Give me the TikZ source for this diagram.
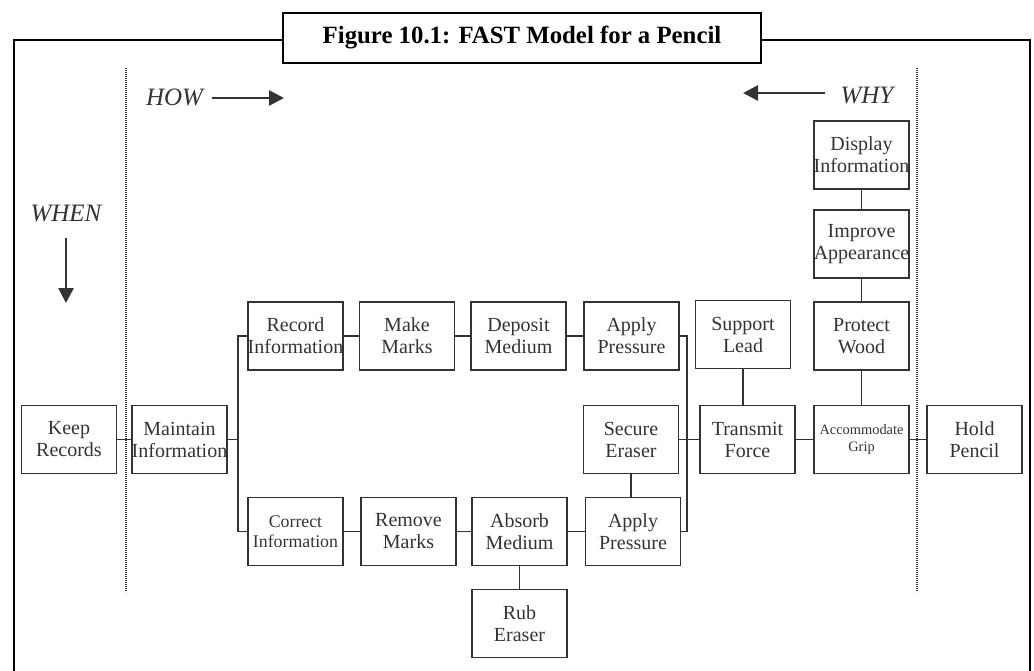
\documentclass[tikz,border=0pt]{standalone}
\usepackage{fontspec}
\setmainfont{Liberation Serif}
\usetikzlibrary{arrows.meta}
\definecolor{ink}{HTML}{333333}
\begin{document}
\begin{tikzpicture}[x=0.5pt,y=-0.5pt,
  fbox/.style={draw=ink, line width=0.8pt, minimum width=47.5pt, minimum height=34pt,
    inner sep=0pt, align=center, text=ink, font=\fontsize{10}{11}\selectfont},
  link/.style={draw=ink, line width=0.8pt},
  dirarrow/.style={line width=1.3pt, draw=ink, -{Triangle[length=7.5pt,width=7.5pt]}},
  sepline/.style={line width=1pt, draw=ink, dash pattern=on 0.6pt off 0.4pt},
  lbl/.style={inner sep=0pt, text=ink, font=\fontsize{12.5}{14}\selectfont\itshape}]
\useasboundingbox (0,0) rectangle (1034,670);
\clip (0,0) rectangle (1034,670);
% frame
\draw[line width=1pt] (14,720) -- (14,40) -- (283,40);
\draw[line width=1pt] (761,40) -- (1030,40) -- (1030,720);
\node[draw, line width=1pt, fill=white, minimum width=239pt, minimum height=25pt, inner sep=0pt,
  font=\fontsize{12.4}{14}\selectfont\bfseries] (title) at (522,38) {Figure 10.1: FAST Model for a Pencil};
% separators
\draw[sepline] (126,68) -- (126,592);
\draw[sepline] (917,68) -- (917,592);
% direction labels
\node[lbl] (how) at (174.5,97) {HOW};
\coordinate (howA) at (212,98);
\coordinate (howB) at (284,98);
\draw[dirarrow] (howA) -- (howB);
\node[lbl] (why) at (867,95) {WHY};
\coordinate (whyA) at (825,93);
\coordinate (whyB) at (743,93);
\draw[dirarrow] (whyA) -- (whyB);
\node[lbl] (when) at (66,213) {WHEN};
\coordinate (whenA) at (66,238);
\coordinate (whenB) at (66,303);
\draw[dirarrow] (whenA) -- (whenB);
% boxes
\node[fbox] (KR) at (69,439.5) {Keep\\Records};
\node[fbox] (MI) at (179.5,439.5) {Maintain\\Information};
\node[fbox] (RI) at (295.5,336) {Record\\Information};
\node[fbox] (MM) at (407,336) {Make\\Marks};
\node[fbox] (DM) at (518.5,336) {Deposit\\Medium};
\node[fbox] (AP1) at (631.5,336) {Apply\\Pressure};
\node[fbox] (SL) at (743,334.5) {Support\\Lead};
\node[fbox] (PW) at (861.5,336) {Protect\\Wood};
\node[fbox] (DI) at (861.5,155) {Display\\Information};
\node[fbox] (IA) at (861.5,244) {Improve\\Appearance};
\node[fbox] (SE) at (631,439.5) {Secure\\Eraser};
\node[fbox] (TF) at (747.5,439.5) {Transmit\\Force};
\node[fbox, font=\fontsize{7.2}{8.5}\selectfont] (AG) at (861.5,439.5) {Accommodate\\Grip};
\node[fbox] (HP) at (974.5,439.5) {Hold\\Pencil};
\node[fbox, font=\fontsize{8.9}{10}\selectfont] (CI) at (295.5,531.5) {Correct\\Information};
\node[fbox] (RM) at (408.5,531.5) {Remove\\Marks};
\node[fbox] (AM) at (519.5,531.5) {Absorb\\Medium};
\node[fbox] (AP2) at (633,531.5) {Apply\\Pressure};
\node[fbox] (RE) at (519.5,623.5) {Rub\\Eraser};
% connectors
\coordinate (busL) at (238,439.5);
\coordinate (busR) at (687,439.5);
\draw[link] (KR) -- (MI);
\draw[link] (MI) -- (busL);
\draw[link] (RI.west) -| (busL) |- (CI.west);
\draw[link] (RI) -- (MM);
\draw[link] (MM) -- (DM);
\draw[link] (DM) -- (AP1);
\draw[link] (CI) -- (RM);
\draw[link] (RM) -- (AM);
\draw[link] (AM) -- (AP2);
\draw[link] (AM) -- (RE);
\draw[link] (AP1.east) -| (busR) |- (AP2.east);
\draw[link] (SE) -- (TF);
\draw[link] (SE.south) -- (SE.south |- AP2.north);
\draw[link] (SL.south) -- (SL.south |- TF.north);
\draw[link] (TF) -- (AG);
\draw[link] (AG) -- (HP);
\draw[link] (DI) -- (IA);
\draw[link] (IA) -- (PW);
\draw[link] (PW) -- (AG);
\end{tikzpicture}
\end{document}
